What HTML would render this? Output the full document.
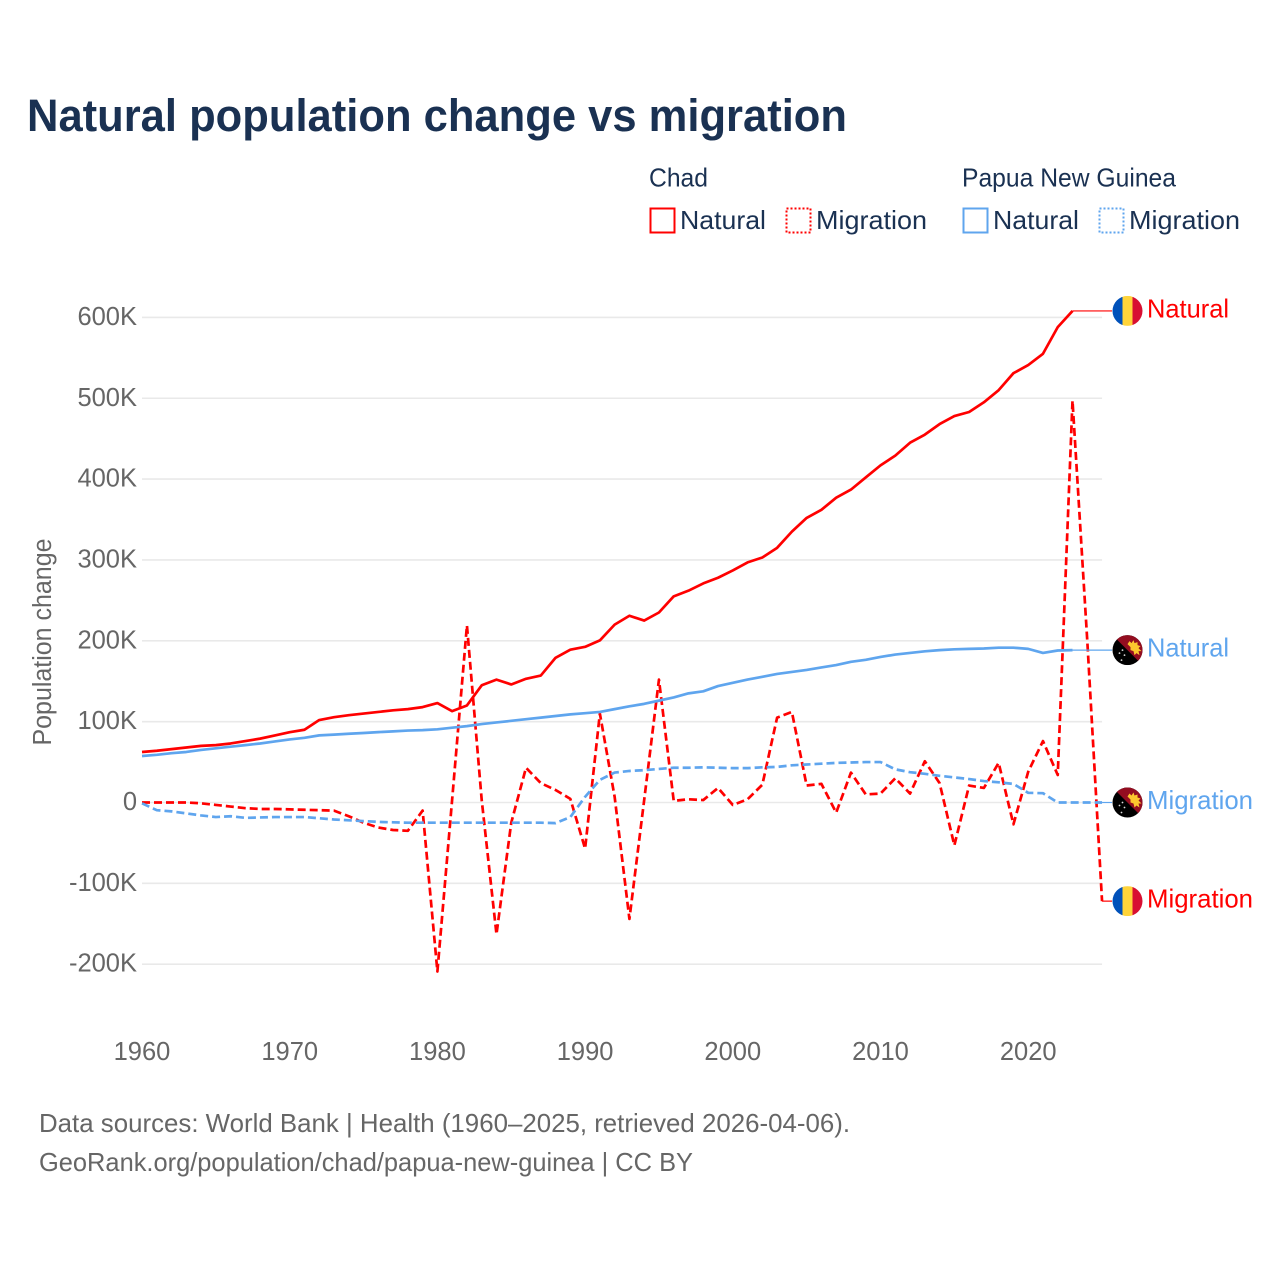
<!DOCTYPE html>
<html lang="en">
<head>
<meta charset="utf-8">
<title>Natural population change vs migration</title>
<style>
html,body{margin:0;padding:0;background:#fff;width:1280px;height:1280px;overflow:hidden}
svg{display:block;font-family:"Liberation Sans",sans-serif}
</style>
</head>
<body>
<svg id="chart" width="1280" height="1280" viewBox="0 0 1280 1280" xmlns="http://www.w3.org/2000/svg">
  <defs>
    <clipPath id="flag-clip"><circle cx="0" cy="0" r="15"/></clipPath>
    <g id="flag-chad" clip-path="url(#flag-clip)">
      <rect x="-15" y="-15" width="10" height="30" fill="#0051ba"/>
      <rect x="-5" y="-15" width="10" height="30" fill="#ffd43a"/>
      <rect x="5" y="-15" width="10" height="30" fill="#d80f32"/>
    </g>
    <g id="flag-png" clip-path="url(#flag-clip)">
      <rect x="-15" y="-15" width="30" height="30" fill="#000"/>
      <polygon points="-15,-15 15,-15 15,15" fill="#930d20"/>
      <path d="M0,-6 L2,-9 L4,-7 L6,-10 L7,-7 L10,-8 L10,-5 L13,-4 L11,-2 L14,1 L11,1 L12,5 L9,3 L7,5 L6,1 L3,0 L3,-3 Z" fill="#fcc72e"/>
      <circle cx="-8" cy="3" r=".9" fill="#ddd"/>
      <circle cx="-5" cy="0" r=".9" fill="#ddd"/>
      <circle cx="-3" cy="5" r=".9" fill="#ddd"/>
      <circle cx="-6" cy="10" r=".9" fill="#ddd"/>
    </g>
  </defs>

  <text x="27" y="131" font-size="45" font-weight="700" fill="#1a3152" textLength="820" lengthAdjust="spacingAndGlyphs">Natural population change vs migration</text>

  <g font-size="26" fill="#1a3152">
    <text x="649" y="186.5" textLength="59" lengthAdjust="spacingAndGlyphs">Chad</text>
    <text x="962" y="186.5" textLength="214" lengthAdjust="spacingAndGlyphs">Papua New Guinea</text>
    <rect x="650.5" y="208.5" width="24" height="24" fill="none" stroke="#ff0000" stroke-width="2"/>
    <text x="680" y="229" textLength="86" lengthAdjust="spacingAndGlyphs">Natural</text>
    <rect x="786.5" y="208.5" width="24" height="24" fill="none" stroke="#ff0000" stroke-width="2" stroke-dasharray="2 2"/>
    <text x="816" y="229" textLength="111" lengthAdjust="spacingAndGlyphs">Migration</text>
    <rect x="963.5" y="208.5" width="24" height="24" fill="none" stroke="#5fa5ee" stroke-width="2"/>
    <text x="993" y="229" textLength="86" lengthAdjust="spacingAndGlyphs">Natural</text>
    <rect x="1099.5" y="208.5" width="24" height="24" fill="none" stroke="#5fa5ee" stroke-width="2" stroke-dasharray="2 2"/>
    <text x="1129" y="229" textLength="111" lengthAdjust="spacingAndGlyphs">Migration</text>
  </g>

  <g id="grid"></g>
  <g id="y-ticks" font-size="25.5" fill="#666" text-anchor="end"></g>
  <g id="x-ticks" font-size="25.5" fill="#666" text-anchor="middle"></g>
  <text transform="translate(51,642) rotate(-90)" font-size="25.5" fill="#666" text-anchor="middle" textLength="207" lengthAdjust="spacingAndGlyphs">Population change</text>

  <g id="series"></g>
  <g id="end-labels" font-size="26"></g>

  <g font-size="26" fill="#666">
    <text x="39" y="1132" textLength="811" lengthAdjust="spacingAndGlyphs">Data sources: World Bank | Health (1960–2025, retrieved 2026-04-06).</text>
    <text x="39" y="1171" textLength="654" lengthAdjust="spacingAndGlyphs">GeoRank.org/population/chad/papua-new-guinea | CC BY</text>
  </g>
</svg>
<script>
const startYear = 1960;
const xTickLabels = [1960, 1970, 1980, 1990, 2000, 2010, 2020];
const yTickValues = [600, 500, 400, 300, 200, 100, 0, -100, -200];

const chadNatural = [62.5,64,66,68,70,71,73,76,79,83,87,90,102,105.5,108,110,112,114,115.5,118,123,113,120,145,152,146,153,157,179,189,192.5,200.5,220,231,225,235,255,262,271,278,287,297,303,315,335,352,362,377,387,402,417,429,445,455,468,478,483,495,510,531,541,555,588,608];
const chadMigration = [0,0,0,0,-1,-3,-5,-7,-8,-8,-8.5,-9,-9.5,-10,-17,-25,-31,-34,-35,-10,-209,4,219,3,-163,-25,43,24,15.5,4.5,-57,110,7,-144,3,152,2,4,3,18,-3,4,22,105,112,21,23,-12.5,37,10,11,30,11,51,24,-53,21,18,49,-27,38,76,34,497,200,-122];
const pngNatural = [57.5,59,61,62.5,65,67,69,71,73,75.5,78,80,83,84,85,86,87,88,89,89.5,90.5,92.5,94.5,97,99,101,103,105,107,109,110.5,112,115.5,119,122,126,130,135,137.5,144,148,152,155.5,159,161.5,164,167,170,174,176.5,180,183,185,187,188.5,189.5,190,190.5,191.5,191.5,190,185,188,188.5];
const pngMigration = [-1,-9.5,-11,-13.5,-16,-18,-17,-19,-18.5,-18,-18,-18,-19.5,-21,-22,-23,-24,-24.5,-25,-25,-25,-25,-25,-25,-25,-25,-25,-25,-25.5,-18,7,28,37,39,40,41.5,43,43,43.5,43,42.5,42.5,43.5,44,46,47,48,49,49.5,50,50,41,37.5,35.5,33,31,29,26.5,25,23,12,11.5,0,0,0,0];

const SVG_NS = 'http://www.w3.org/2000/svg';
function xScale(year) { return 142 + (year - startYear) * 14.77; }
function yScale(value) { return 802.5 - value * 0.8085; }
function linePath(values) {
  return values.map(function (v, i) {
    return (i ? 'L' : 'M') + xScale(startYear + i).toFixed(2) + ' ' + yScale(v).toFixed(2);
  }).join(' ');
}
function formatTick(v) { return v === 0 ? '0' : v + 'K'; }
function lastYear(values) { return startYear + values.length - 1; }

const gridGroup = document.getElementById('grid');
const yGroup = document.getElementById('y-ticks');
yTickValues.forEach(function (v) {
  const line = document.createElementNS(SVG_NS, 'line');
  
  
  line.setAttribute('x1', xScale(1960));
  line.setAttribute('x2', xScale(2025));
  line.setAttribute('y1', yScale(v));
  line.setAttribute('y2', yScale(v));
  line.setAttribute('stroke', '#e9e9e9');
  line.setAttribute('stroke-width', '1.6');
  gridGroup.appendChild(line);
  const label = document.createElementNS(SVG_NS, 'text');
  
  
  label.setAttribute('x', 137);
  label.setAttribute('y', yScale(v) + 7.5);
  label.textContent = formatTick(v);
  yGroup.appendChild(label);
});

const xGroup = document.getElementById('x-ticks');
xTickLabels.forEach(function (year) {
  const label = document.createElementNS(SVG_NS, 'text');
  
  
  label.setAttribute('x', xScale(year));
  label.setAttribute('y', 1060);
  label.textContent = year;
  xGroup.appendChild(label);
});

const seriesGroup = document.getElementById('series');
const labelGroup = document.getElementById('end-labels');
function drawSeries(values, color, dashed, flagId, text, name, labelWidth) {
  const path = document.createElementNS(SVG_NS, 'path');
  
  
  path.setAttribute('d', linePath(values));
  path.setAttribute('fill', 'none');
  path.setAttribute('stroke', color);
  path.setAttribute('stroke-width', '2.7');
  path.setAttribute('stroke-linejoin', 'round');
  if (dashed) path.setAttribute('stroke-dasharray', '8 4');
  seriesGroup.appendChild(path);

  const endV = values[values.length - 1];
  const endY = yScale(endV);
  const leader = document.createElementNS(SVG_NS, 'line');
  
  
  leader.setAttribute('x1', xScale(lastYear(values)));
  leader.setAttribute('x2', 1112);
  leader.setAttribute('y1', endY);
  leader.setAttribute('y2', endY);
  leader.setAttribute('stroke', color);
  leader.setAttribute('stroke-width', '1.2');
  labelGroup.appendChild(leader);

  const flag = document.createElementNS(SVG_NS, 'use');
  
  
  flag.setAttribute('href', '#' + flagId);
  flag.setAttribute('transform', 'translate(1127.5,' + endY + ')');
  labelGroup.appendChild(flag);

  const label = document.createElementNS(SVG_NS, 'text');
  
  
  label.setAttribute('x', 1147);
  label.setAttribute('y', endY + 6.5);
  label.setAttribute('fill', color);
  label.setAttribute('textLength', labelWidth);
  label.setAttribute('lengthAdjust', 'spacingAndGlyphs');
  label.textContent = text;
  labelGroup.appendChild(label);
}
drawSeries(chadNatural, '#ff0000', false, 'flag-chad', 'Natural', 'chad-natural', 82);
drawSeries(chadMigration, '#ff0000', true, 'flag-chad', 'Migration', 'chad-migration', 106);
drawSeries(pngNatural, '#5fa5ee', false, 'flag-png', 'Natural', 'png-natural', 82);
drawSeries(pngMigration, '#5fa5ee', true, 'flag-png', 'Migration', 'png-migration', 106);
</script>
</body>
</html>
